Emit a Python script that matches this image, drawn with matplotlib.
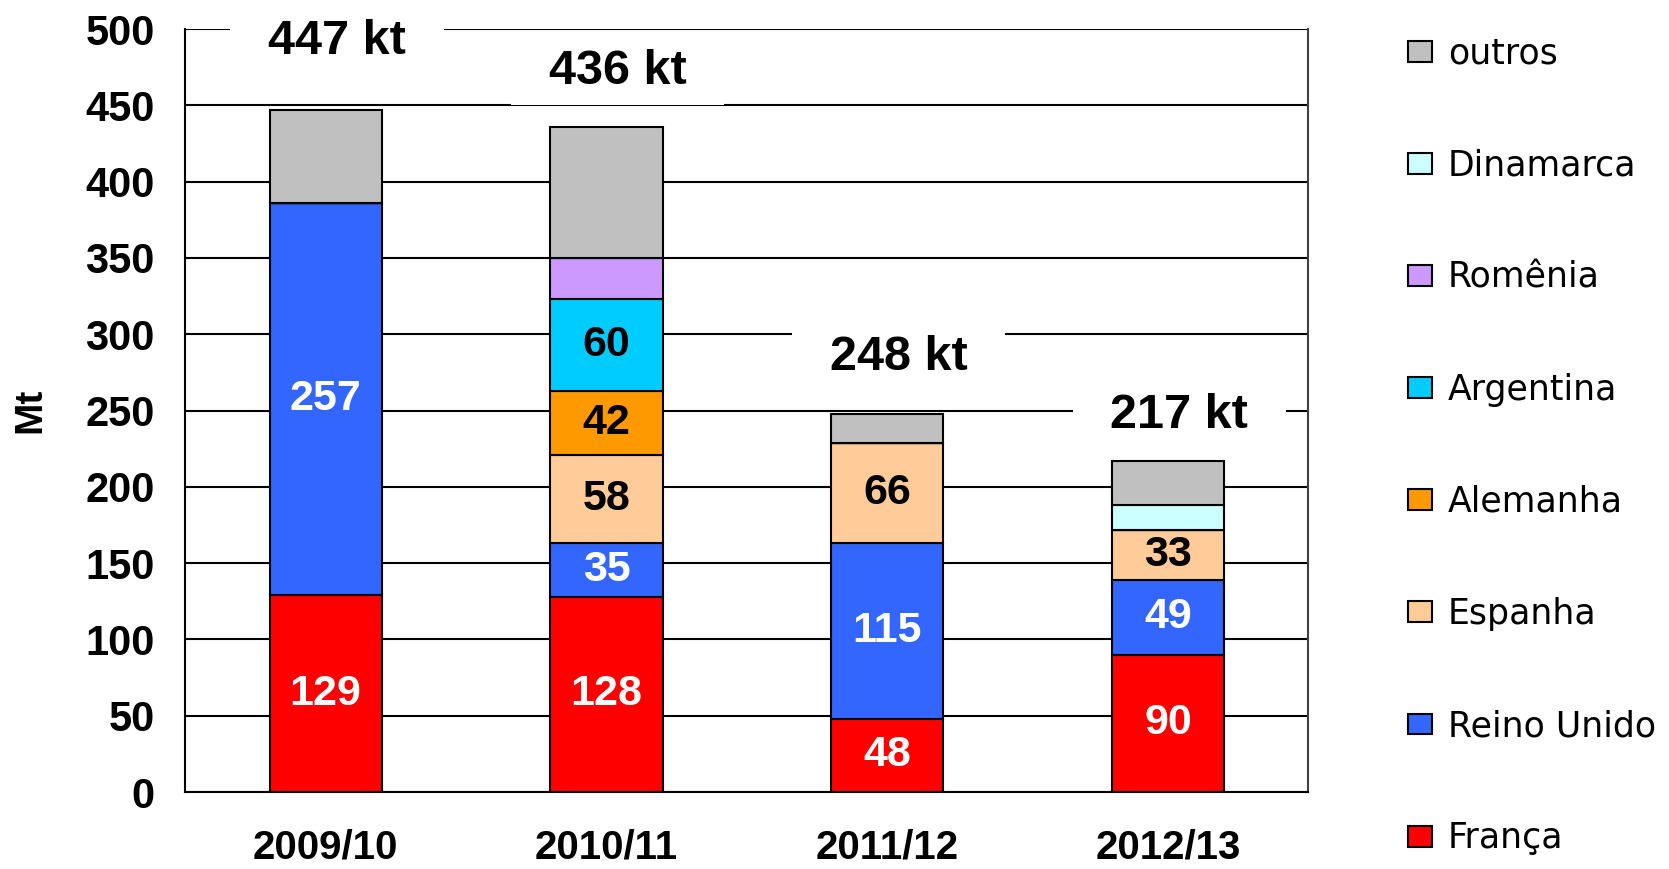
import numpy as np
import matplotlib.pyplot as plt

# data (kt)
seasons = ["2009/10", "2010/11", "2011/12", "2012/13"]
franca = [129, 128, 48, 90]
reino_unido = [257, 35, 115, 49]
espanha = [0, 58, 66, 33]
alemanha = [0, 42, 0, 0]
argentina = [0, 60, 0, 0]
romenia = [0, 27, 0, 0]
dinamarca = [0, 0, 0, 16]
outros = [61, 86, 19, 29]
totals = [447, 436, 248, 217]

# how far above each bar the total label sits (layout, not data)
total_label_offset = [45, 36, 37, 30]

series = [
    ("França", franca, "#FF0000", "white", True),
    ("Reino Unido", reino_unido, "#3366FF", "white", True),
    ("Espanha", espanha, "#FFCC99", "black", True),
    ("Alemanha", alemanha, "#FF9900", "black", True),
    ("Argentina", argentina, "#00CCFF", "black", True),
    ("Romênia", romenia, "#CC99FF", "black", False),
    ("Dinamarca", dinamarca, "#CCFFFF", "black", False),
    ("outros", outros, "#C0C0C0", "black", False),
]

plt.rcParams["font.family"] = ["Liberation Sans", "DejaVu Sans"]

fig = plt.figure(figsize=(16.69, 8.69), dpi=100)
ax = fig.add_axes([0.111, 0.0886, 0.673, 0.878])

x = np.arange(len(seasons))
bottom = np.zeros(len(seasons))
handles = []
for name, vals, color, txtcol, show in series:
    vals = np.array(vals, dtype=float)
    bars = ax.bar(x, vals, 0.4, bottom=bottom, color=color, edgecolor="black",
                  linewidth=1.5, label=name, zorder=2)
    handles.append(bars)
    if show:
        for xi, b, v in zip(x, bottom, vals):
            if v > 0:
                ax.text(xi, b + v / 2, "%d" % v, ha="center", va="center",
                        fontsize=31, fontweight="bold", color=txtcol, zorder=4)
    bottom += vals

# totals above bars, white boxes break the gridlines (spaces widen the box)
for xi, t, off in zip(x, totals, total_label_offset):
    ax.text(xi + 0.04, t + off, "  %d kt  " % t, ha="center", va="center",
            fontsize=35, fontweight="bold", zorder=5, clip_on=False,
            bbox=dict(boxstyle="square,pad=0.22", facecolor="white", edgecolor="none"))

ax.set_xlim(-0.5, 3.5)
ax.set_ylim(0, 500)
ax.set_yticks(np.arange(0, 501, 50))
ax.set_xticks(x)
ax.set_xticklabels(seasons, fontsize=29, fontweight="bold")
for lab in ax.get_yticklabels():
    lab.set_fontsize(30)
    lab.set_fontweight("bold")
ax.tick_params(axis="y", length=0, pad=22)
ax.tick_params(axis="x", length=0, pad=26)
ax.yaxis.grid(True, color="black", linewidth=1.5, zorder=0)
ax.set_axisbelow(True)
ax.spines["top"].set_visible(False)
ax.spines["left"].set_linewidth(1.5)
ax.spines["bottom"].set_linewidth(1.5)
ax.spines["right"].set_linewidth(1.5)
ax.spines["right"].set_color("#404040")

ax.set_ylabel("Mt", fontsize=28, fontweight="bold")
ax.yaxis.set_label_coords(-0.122, 0.5)

fig.legend(handles[::-1], [s[0] for s in series][::-1], loc="upper left",
           bbox_to_anchor=(0.8437, 0.958), frameon=False,
           prop={"family": "DejaVu Sans", "size": 25},
           handlelength=0.7, handleheight=0.55, handletextpad=0.45,
           labelspacing=2.25, borderpad=0, borderaxespad=0)

fig.savefig("out.png", dpi=100)
